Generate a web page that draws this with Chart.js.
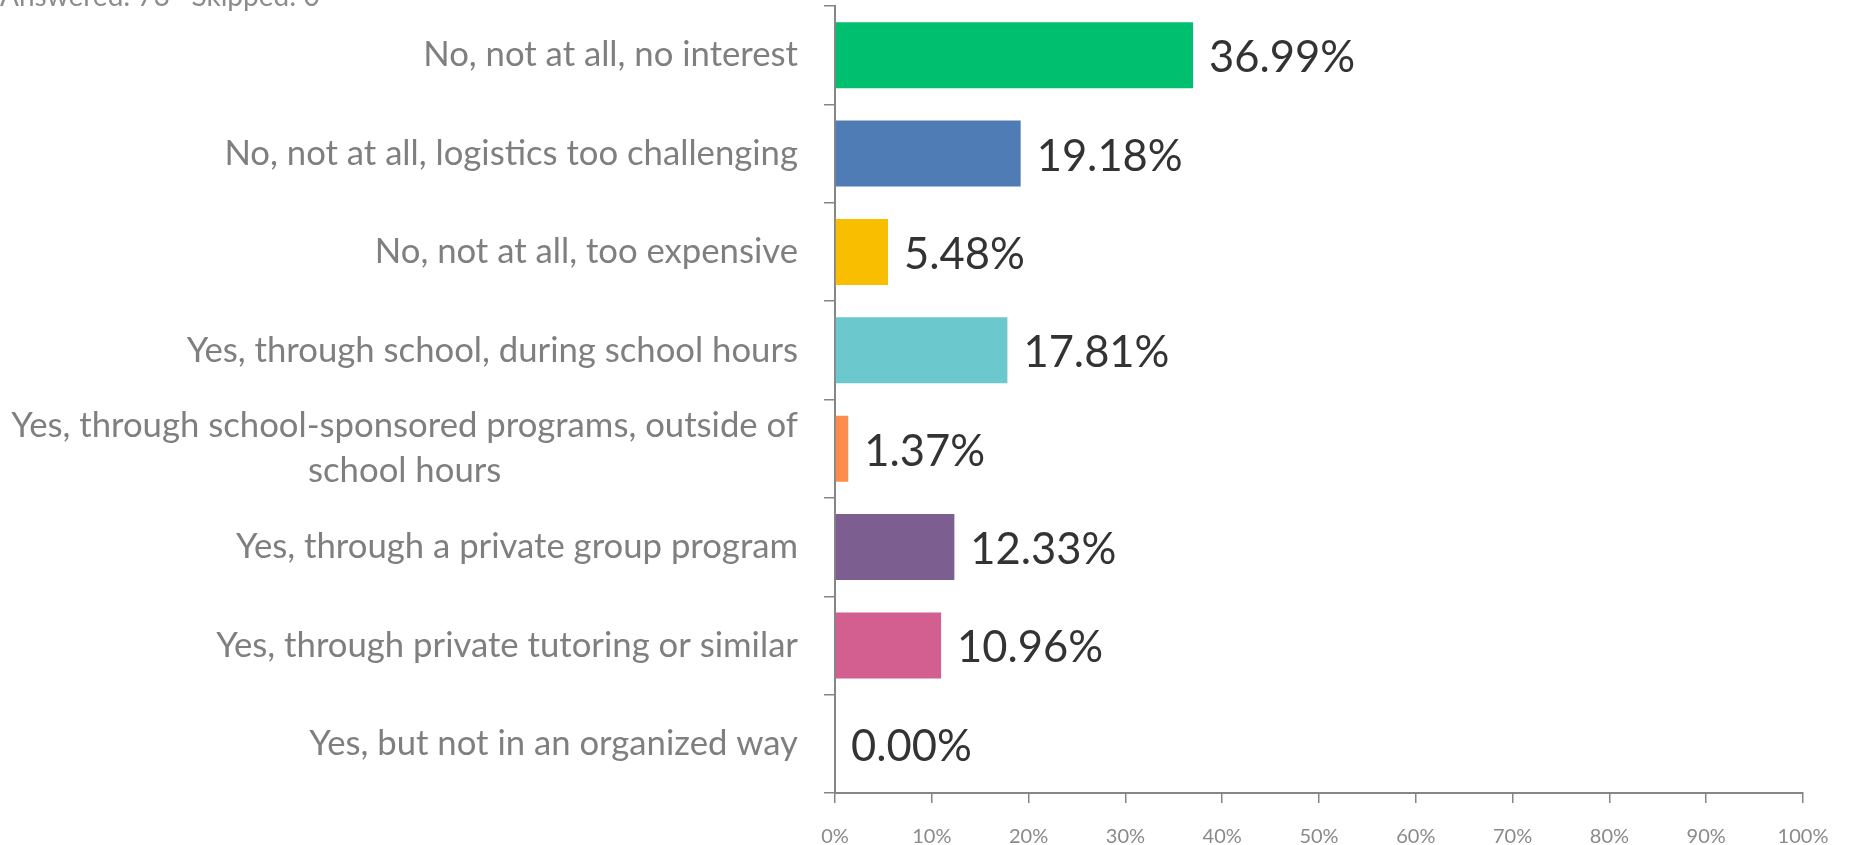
<!DOCTYPE html>
<html>
<head>
<meta charset="utf-8">
<script src="https://cdn.jsdelivr.net/npm/chart.js@4/dist/chart.umd.min.js"></script>
<style>
html,body{margin:0;padding:0;background:#fff;overflow:hidden;}
canvas{display:block;}
</style>
</head>
<body>
<canvas id="c" width="1851" height="845"></canvas>
<script>
const categories = [
  ["No, not at all, no interest"],
  ["No, not at all, logistics too challenging"],
  ["No, not at all, too expensive"],
  ["Yes, through school, during school hours"],
  ["Yes, through school-sponsored programs, outside of", "school hours"],
  ["Yes, through a private group program"],
  ["Yes, through private tutoring or similar"],
  ["Yes, but not in an organized way"]
];
const values = [36.99, 19.18, 5.48, 17.81, 1.37, 12.33, 10.96, 0.00];
const colors = ["#00BF6F", "#507CB6", "#F9BE00", "#6BC8CD", "#FF8B4F", "#7D5E90", "#D25F90", "#DAC53C"];
const xTicks = [0, 10, 20, 30, 40, 50, 60, 70, 80, 90, 100];
const headerText = "Answered: 73   Skipped: 0";

const GRAY = "#868686";
const LABEL_FONT = "34.7px Lato";
const VALUE_FONT = "43.5px Lato";

const labelPlugin = {
  id: "customLabels",
  afterDraw(chart) {
    const ctx = chart.ctx;
    const ys = chart.scales.y;
    ctx.save();
    // header (partly clipped at the top, as in the reference)
    ctx.font = "28px Lato";
    ctx.fillStyle = "#8c8c8c";
    ctx.textAlign = "left";
    ctx.textBaseline = "alphabetic";
    ctx.fillText(headerText, 0, 6);
    // category labels
    ctx.font = LABEL_FONT;
    ctx.fillStyle = "#7f7f7f";
    ctx.textBaseline = "middle";
    ctx.textAlign = "center";
    const rightEdge = 798;
    const lineH = 45;
    categories.forEach((lines, i) => {
      const cy = ys.getPixelForValue(i);
      let maxW = 0;
      lines.forEach(l => { maxW = Math.max(maxW, ctx.measureText(l).width); });
      const cx = rightEdge - maxW / 2;
      const y0 = cy - (lines.length - 1) * lineH / 2;
      lines.forEach((l, k) => ctx.fillText(l, cx, y0 + k * lineH));
    });
    // value labels
    ctx.font = VALUE_FONT;
    ctx.fillStyle = "#333333";
    ctx.textAlign = "left";
    const meta = chart.getDatasetMeta(0);
    meta.data.forEach((bar, i) => {
      ctx.fillText(values[i].toFixed(2) + "%", bar.x + 16, bar.y + 3);
    });
    ctx.restore();
  }
};

new Chart(document.getElementById("c"), {
  type: "bar",
  data: {
    labels: categories.map(c => c.join(" ")),
    datasets: [{
      data: values,
      backgroundColor: colors,
      borderWidth: 0,
      categoryPercentage: 1.0,
      barPercentage: 0.67
    }]
  },
  options: {
    indexAxis: "y",
    responsive: false,
    animation: false,
    devicePixelRatio: 1,
    layout: { padding: { top: 6, right: 48, bottom: 0, left: 0 } },
    plugins: { legend: { display: false }, tooltip: { enabled: false }, title: { display: false } },
    scales: {
      x: {
        min: 0, max: 100,
        afterBuildTicks(scale) { scale.ticks = xTicks.map(v => ({ value: v })); },
        afterFit(scale) { scale.height = 52; },
        grid: { drawOnChartArea: false, drawTicks: true, tickLength: 10, color: GRAY, lineWidth: 1.5 },
        border: { display: true, color: GRAY, width: 2 },
        ticks: {
          padding: 22,
          color: "#8a8a8a",
          font: { family: "Lato", size: 20 },
          callback: v => v + "%"
        }
      },
      y: {
        afterFit(scale) { scale.width = 835; },
        grid: { drawOnChartArea: false, drawTicks: true, tickLength: 11, color: GRAY, lineWidth: 1.5, offset: true },
        border: { display: true, color: GRAY, width: 2 },
        ticks: { display: false }
      }
    }
  },
  plugins: [labelPlugin]
});
</script>
</body>
</html>
